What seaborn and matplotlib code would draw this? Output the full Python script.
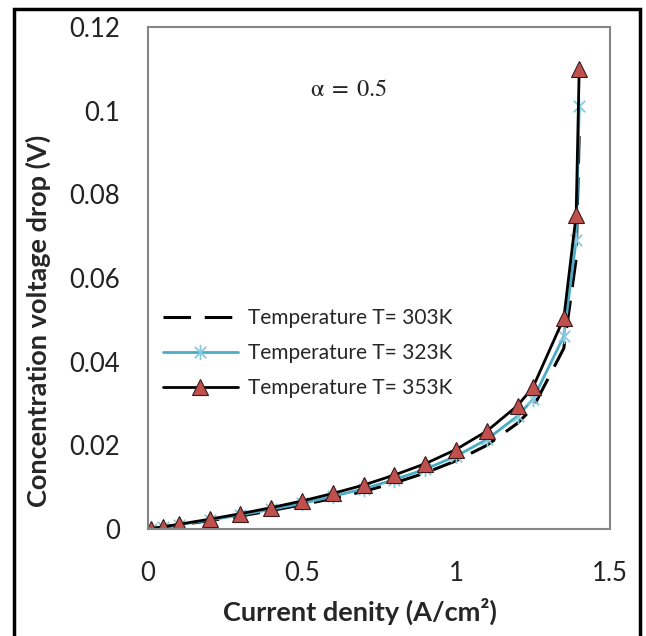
import numpy as np
import pandas as pd
import matplotlib
matplotlib.use("Agg")
import matplotlib.pyplot as plt
import seaborn as sns
from matplotlib.path import Path
from matplotlib.patches import Rectangle

# ---- data ----
current = [0.01, 0.05, 0.1, 0.2, 0.3, 0.4, 0.5, 0.6, 0.7, 0.8, 0.9, 1.0,
           1.1, 1.2, 1.25, 1.35, 1.39, 1.4]
v_303 = [0.0001, 0.00047, 0.00097, 0.0020, 0.0031, 0.0044, 0.0058, 0.0073,
         0.0090, 0.0110, 0.0134, 0.0163, 0.0200, 0.0253, 0.0290, 0.0432,
         0.0645, 0.0944]
v_323 = [0.0001, 0.0005, 0.00103, 0.00214, 0.00335, 0.0047, 0.0061, 0.0078,
         0.0096, 0.0118, 0.0143, 0.0174, 0.0214, 0.0270, 0.0310, 0.0461,
         0.069, 0.101]
v_353 = [0.0001, 0.00055, 0.00113, 0.00234, 0.00366, 0.0051, 0.0067, 0.0085,
         0.0105, 0.0129, 0.0156, 0.0190, 0.0234, 0.0295, 0.0339, 0.0504,
         0.075, 0.110]
labels = ["Temperature T= 303K", "Temperature T= 323K", "Temperature T= 353K"]
x_ticks = [0, 0.5, 1, 1.5]
x_tick_labels = ["0", "0.5", "1", "1.5"]
y_ticks = [0, 0.02, 0.04, 0.06, 0.08, 0.1, 0.12]
y_tick_labels = ["0", "0.02", "0.04", "0.06", "0.08", "0.1", "0.12"]

sns.set_style("white")
plt.rcParams["font.family"] = ["Lato", "DejaVu Sans"]
plt.rcParams["mathtext.fontset"] = "stix"

fig = plt.figure(figsize=(6.46, 6.36), dpi=100)
ax = fig.add_axes([148 / 646, 1 - 529 / 636, 462 / 646, 502 / 636])

df303 = pd.DataFrame({"x": current, "y": v_303})
df323 = pd.DataFrame({"x": current, "y": v_323})
df353 = pd.DataFrame({"x": current, "y": v_353})

star = Path([(0, -1), (0, 1), (-0.75, -0.75), (0.75, 0.75), (-0.75, 0.75), (0.75, -0.75)],
            [Path.MOVETO, Path.LINETO, Path.MOVETO, Path.LINETO, Path.MOVETO, Path.LINETO])

sns.lineplot(data=df303, x="x", y="y", ax=ax, color="black", lw=2.2,
             label=labels[0], linestyle=(0, (9, 4.5)), sort=False)
sns.lineplot(data=df323, x="x", y="y", ax=ax, color="#4BACC6", lw=2.0,
             marker=star, markersize=11, markeredgecolor="#86CBE0",
             markerfacecolor="none", markeredgewidth=1.3, label=labels[1], sort=False)
sns.lineplot(data=df353, x="x", y="y", ax=ax, color="black", lw=2.0,
             marker="^", markersize=11, markerfacecolor="#C0504D",
             markeredgecolor="#3a1a1a", markeredgewidth=0.8, label=labels[2], sort=False)

ax.set_xlim(0, 1.5)
ax.set_ylim(0, 0.12)
ax.set_xticks(x_ticks)
ax.set_xticklabels(x_tick_labels)
ax.set_yticks(y_ticks)
ax.set_yticklabels(y_tick_labels)
ax.tick_params(axis="both", direction="out", length=6, width=1.5, color="#868686",
               labelsize=18.5, labelcolor="#222222")
ax.tick_params(axis="y", pad=14)
ax.tick_params(axis="x", pad=17)
for s in ax.spines.values():
    s.set_color("#868686")
    s.set_linewidth(1.5)

ax.set_xlabel("Current denity (A/cm²)", fontsize=19.5, fontweight="bold")
ax.set_ylabel("Concentration voltage drop (V)", fontsize=19.5, fontweight="bold")
ax.xaxis.set_label_coords(0.459, -0.137)
ax.yaxis.set_label_coords(-0.21, 0.415)

ax.text(0.435, 0.875, r"$\mathrm{α}\;=\;0.5$", transform=ax.transAxes, fontsize=17.5,
        ha="center", va="center")

leg = ax.legend(loc="center left", bbox_to_anchor=(0.032, 0.351), frameon=False,
                fontsize=15, handlelength=3.6, handletextpad=0.5,
                labelspacing=0.72, borderpad=0, borderaxespad=0)

fig.patches.append(Rectangle((14 / 646, -0.02), (640 - 14) / 646, 1.02 - 9 / 636,
                             transform=fig.transFigure, fill=False, lw=2.5,
                             edgecolor="black", clip_on=False))

fig.savefig("out.png", dpi=100, facecolor="white")
